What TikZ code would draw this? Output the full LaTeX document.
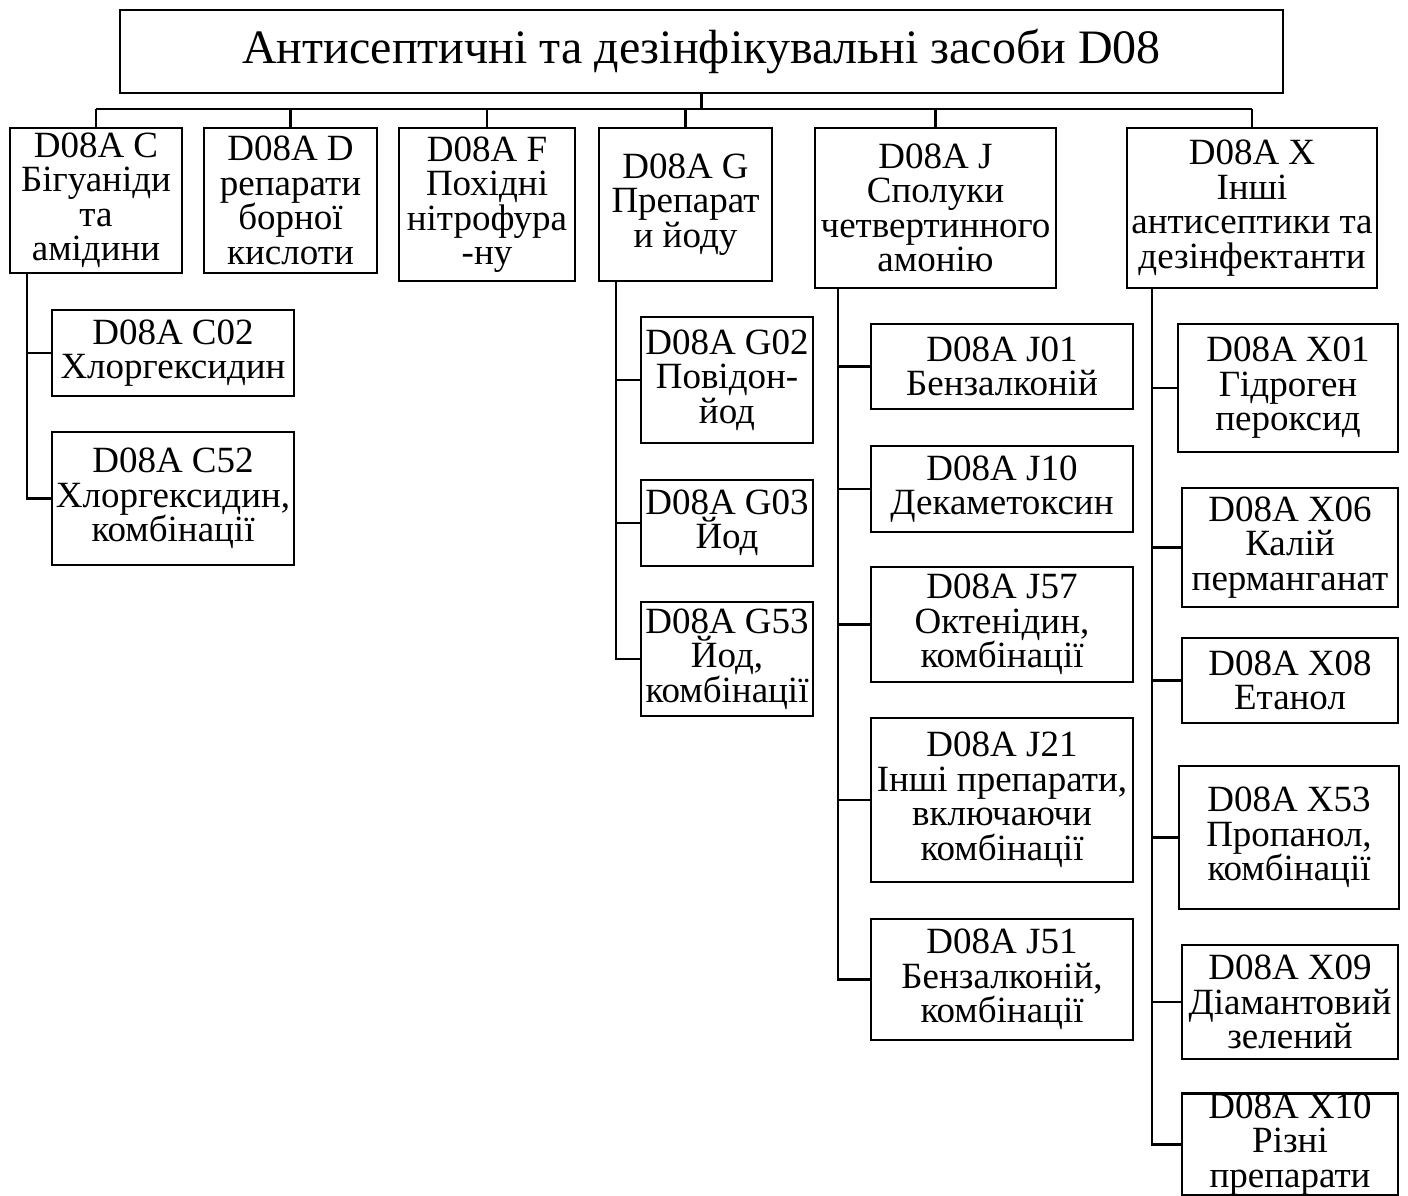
\documentclass[tikz,border=0pt]{standalone}
\usepackage{fontspec}
\setmainfont{Liberation Serif}
\begin{document}
\begin{tikzpicture}[x=1pt,y=-1pt,
  bx/.style={draw=black,line width=2.8pt,inner sep=0pt,align=center,font=\fontsize{37}{34.5}\selectfont},
  conn/.style={draw=black,line width=2.8pt}]
\useasboundingbox (0,0) rectangle (1408,1196);
% title
\node[bx,minimum width=1163,minimum height=83,font=\fontsize{48}{52}\selectfont] (T) at (701.5,51.5) {Антисептичні та дезінфікувальні засоби D08};
% level 1
\node[bx,minimum width=172,minimum height=145] (C) at (96,200.5) {D08A C\\Бігуаніди\\та\\амідини};
\node[bx,minimum width=173,minimum height=145] (D) at (290.5,200.5) {D08A D\\репарати\\борної\\кислоти};
\node[bx,minimum width=176,minimum height=153] (F) at (487,204.5) {D08A F\\Похідні\\нітрофура\\-ну};
\node[bx,minimum width=173,minimum height=153] (G) at (685.5,204.5) {D08A G\\Препарат\\и йоду};
\node[bx,minimum width=241,minimum height=160] (J) at (935.5,208) {D08A J\\Сполуки\\четвертинного\\амонію};
\node[bx,minimum width=250,minimum height=160] (X) at (1252,208) {D08A X\\Інші\\антисептики та\\дезінфектанти};
% C children
\node[bx,minimum width=242,minimum height=86] (C02) at (173,353) {D08A C02\\Хлоргексидин};
\node[bx,minimum width=242,minimum height=133] (C52) at (173,498.5) {D08A C52\\Хлоргексидин,\\комбінації};
% G children
\node[bx,minimum width=172,minimum height=126] (G02) at (727,380) {D08A G02\\Повідон-\\йод};
\node[bx,minimum width=172,minimum height=86] (G03) at (727,523) {D08A G03\\Йод};
\node[bx,minimum width=172,minimum height=114] (G53) at (727,659) {D08A G53\\Йод,\\комбінації};
% J children
\node[bx,minimum width=262,minimum height=85] (J01) at (1002,366.5) {D08A J01\\Бензалконій};
\node[bx,minimum width=262,minimum height=86] (J10) at (1002,489) {D08A J10\\Декаметоксин};
\node[bx,minimum width=262,minimum height=115] (J57) at (1002,624.5) {D08A J57\\Октенідин,\\комбінації};
\node[bx,minimum width=262,minimum height=164] (J21) at (1002,800) {D08A J21\\Інші препарати,\\включаючи\\комбінації};
\node[bx,minimum width=262,minimum height=121] (J51) at (1002,979.5) {D08A J51\\Бензалконій,\\комбінації};
% X children
\node[bx,minimum width=220,minimum height=128] (X01) at (1288,388) {D08A X01\\Гідроген\\пероксид};
\node[bx,minimum width=216,minimum height=119] (X06) at (1290,547.5) {D08A X06\\Калій\\перманганат};
\node[bx,minimum width=216,minimum height=85] (X08) at (1290,680.5) {D08A X08\\Етанол};
\node[bx,minimum width=220,minimum height=143] (X53) at (1289,837.5) {D08A X53\\Пропанол,\\комбінації};
\node[bx,minimum width=216,minimum height=114] (X09) at (1290,1002) {D08A X09\\Діамантовий\\зелений};
\node[bx,minimum width=216,minimum height=99] (X10) at (1290,1144.5) {D08A X10\\Різні\\препарати};
% connector helpers
\coordinate (bar) at (0,109);
\coordinate (Cx) at (27,0);
\coordinate (Gx) at (616,0);
\coordinate (Jx) at (838,0);
\coordinate (Xx) at (1152,0);
% top connectors
\draw[conn] (T.south) -- (T.south |- bar);
\draw[conn] (C.north |- bar) -- (X.north |- bar);
\foreach \n in {C,D,F,G,J,X} \draw[conn] (\n.north |- bar) -- (\n.north);
% C branch
\draw[conn] (C.south -| Cx) |- (C52.west);
\draw[conn] (C02.west -| Cx) -- (C02.west);
% G branch
\draw[conn] (G.south -| Gx) |- (G53.west);
\foreach \n in {G02,G03} \draw[conn] (\n.west -| Gx) -- (\n.west);
% J branch
\draw[conn] (J.south -| Jx) |- (J51.west);
\foreach \n in {J01,J10,J57,J21} \draw[conn] (\n.west -| Jx) -- (\n.west);
% X branch
\draw[conn] (X.south -| Xx) |- (X10.west);
\foreach \n in {X01,X06,X08,X53,X09} \draw[conn] (\n.west -| Xx) -- (\n.west);
\end{tikzpicture}
\end{document}
